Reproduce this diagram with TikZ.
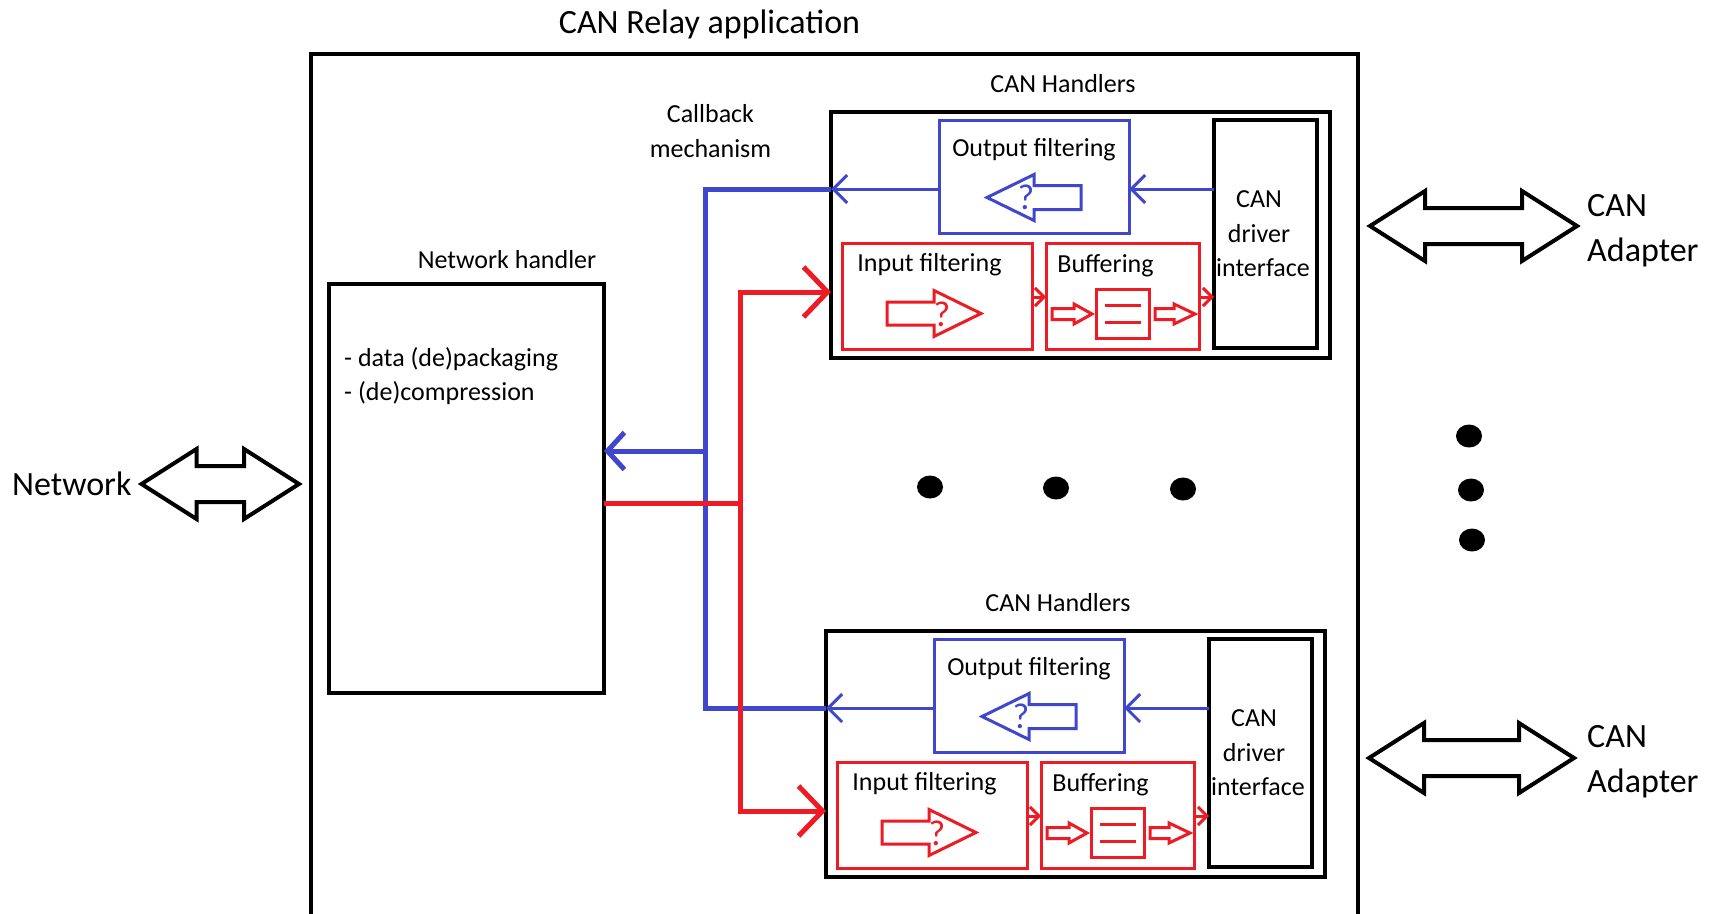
\documentclass[tikz,border=0pt]{standalone}
\usepackage{fontspec}
\setmainfont{Carlito}
\usetikzlibrary{arrows.meta}
\definecolor{pblue}{HTML}{3F48CC}
\definecolor{pred}{HTML}{ED1C24}

\tikzset{
  big/.style={font=\fontsize{34}{46}\selectfont, inner sep=0pt, anchor=base},
  small/.style={font=\fontsize{26}{35}\selectfont, inner sep=0pt, anchor=base},
  qmark/.style={font=\fontsize{36}{38}\selectfont, inner sep=0pt, anchor=base},
  sz/.style 2 args={minimum width=#1pt, minimum height=#2pt},
  anybox/.style={rectangle, inner sep=0pt, outer sep=0pt},
  frame/.style={anybox, draw=black, line width=3.5pt},
  hbox/.style={anybox, draw=black, line width=4.5pt},
  kbox/.style={anybox, draw=black, line width=4pt},
  nbox/.style={anybox, draw=black, line width=4pt},
  bbox/.style={anybox, draw=pblue, line width=3pt},
  rbox/.style={anybox, draw=pred, line width=3pt},
  bthin/.style={draw=pblue, line width=3pt},
  rthin/.style={draw=pred, line width=3pt},
  bthick/.style={draw=pblue, line width=5pt},
  rthick/.style={draw=pred, line width=5pt},
  dblshape/.style={draw=black, line width=4pt, line join=miter, fill=white},
  barbthin/.style={-{Straight Barb[length=14pt, width=28pt]}},
  barbtiny/.style={-{Straight Barb[length=9pt, width=18pt]}},
}

% double-headed outline arrow: left x, right x, centre y
\newcommand\dblarr[3]{%
  \draw[dblshape] (#1,#3) -- ({#1+55},{#3-35}) -- ({#1+55},{#3-18}) -- ({#2-55},{#3-18})
    -- ({#2-55},{#3-35}) -- (#2,#3) -- ({#2-55},{#3+35}) -- ({#2-55},{#3+18})
    -- ({#1+55},{#3+18}) -- ({#1+55},{#3+35}) -- cycle;}

% single outline block arrow: colour, tail x, head base x, tip x, y, head half, shaft half
\newcommand\blkarr[7]{%
  \draw[draw=#1, line width=3pt, line join=miter] (#2,{#5-#7}) -- (#3,{#5-#7}) -- (#3,{#5-#6})
    -- (#4,#5) -- (#3,{#5+#6}) -- (#3,{#5+#7}) -- (#2,{#5+#7}) -- cycle;}

% one CAN handler block: name suffix, dx, dy
\newcommand\canhandler[3]{%
\begin{scope}[shift={(#2,#3)}]
  \node[hbox, sz={499}{246}] (h#1) at (1080.5,235) {};
  \node[small] (hl#1) at (1063,92) {CAN Handlers};
  \node[bbox, sz={190}{113}] (out#1) at (1034,176.5) {};
  \node[rbox, sz={190}{106}] (in#1) at (937,296) {};
  \node[rbox, sz={153}{106}] (buf#1) at (1122.5,296) {};
  \node[kbox, sz={103}{228}] (drv#1) at (1265.5,234) {};
  \node[small] (ot#1) at (1034,156) {Output filtering};
  \node[small] (it#1) at (929.5,271) {Input filtering};
  \node[small] (bt#1) at (1105.5,272) {Buffering};
  \node[small] (da#1) at (1259,207) {CAN};
  \node[small] (db#1) at (1259,242) {driver};
  \node[small] (dc#1) at (1263,276) {interface};
  \blkarr{pblue}{1081}{1034}{987}{197.5}{23}{12}
  \node[qmark, text=pblue] (qa#1) at (1026,209.5) {?};
  \blkarr{pred}{887}{934}{981}{313.5}{23}{11.5}
  \node[qmark, text=pred] (qb#1) at (942,326) {?};
  \node[rbox, sz={53}{49}] (bi#1) at (1122.5,313.5) {};
  \draw[rthin] ([xshift=-18pt, yshift=8.5pt]bi#1.center) -- ([xshift=18pt, yshift=8.5pt]bi#1.center);
  \draw[rthin] ([xshift=-18pt, yshift=-8.5pt]bi#1.center) -- ([xshift=18pt, yshift=-8.5pt]bi#1.center);
  \blkarr{pred}{1052}{1074}{1092}{314}{10}{5.5}
  \blkarr{pred}{1155}{1174}{1195}{314}{10}{5.5}
  \coordinate (yb#1) at (0,189);
  \coordinate (yr#1) at (0,297);
  \coordinate (ra#1) at (0,292);
  \draw[bthin, barbthin] (drv#1.west |- yb#1) -- (out#1.east |- yb#1);
  \draw[bthin, barbthin] (out#1.west |- yb#1) -- (h#1.west |- yb#1);
  \draw[rthin, barbtiny] (in#1.east |- yr#1) -- (buf#1.west |- yr#1);
  \draw[rthin, barbtiny] (buf#1.east |- yr#1) -- (drv#1.west |- yr#1);
\end{scope}}

\begin{document}
\begin{tikzpicture}[x=1pt, y=-1pt]
  \useasboundingbox (0,0) rectangle (1718,913);
  \clip (0,0) rectangle (1718,913);
  \fill[white] (0,0) rectangle (1718,913);

  % application frame (runs off the bottom)
  \node[frame, sz={1047}{906}] (app) at (834.5,507) {};
  \node[big] (title) at (709.5,33) {CAN Relay application};

  % network handler
  \node[nbox, sz={275}{409}] (nh) at (466.5,488.5) {};
  \node[small] (nhl) at (507,268) {Network handler};
  \node[small, anchor=base west] (nh1) at (344,366) {- data (de)packaging};
  \node[small, anchor=base west] (nh2) at (344,400) {- (de)compression};

  \node[small] (cb1) at (710.5,122) {Callback};
  \node[small] (cb2) at (710.5,157) {mechanism};

  % network side
  \node[big, anchor=base west] (net) at (12,495) {Network};
  \dblarr{141.5}{299}{484}

  % CAN handlers
  \canhandler{1}{0}{0}
  \canhandler{2}{-5}{519}

  % callback (blue) bus
  \coordinate (bv) at (705,0);
  \coordinate (nb) at (705,451);
  \draw[bthick, line join=miter] (h1.west |- yb1) -| (bv |- yb2) -- (h2.west |- yb2);
  \draw[bthick, -{Straight Barb[length=17pt, width=37pt]}] (nb) -- (nh.east |- nb);

  % input (red) bus
  \coordinate (rv) at (740,0);
  \coordinate (nr) at (740,503);
  \draw[rthick] (nh.east |- nr) -- (nr);
  \draw[rthick, line join=miter, {Straight Barb[length=24pt, width=50pt]}-{Straight Barb[length=24pt, width=50pt]}]
    (h1.west |- ra1) -| (rv |- ra2) -- (h2.west |- ra2);

  % ellipsis dots
  \fill (930,487) ellipse [x radius=13pt, y radius=11.5pt];
  \fill (1056,488) ellipse [x radius=13pt, y radius=11.5pt];
  \fill (1183,489) ellipse [x radius=13pt, y radius=11.5pt];
  \fill (1469,436) ellipse [x radius=13pt, y radius=11.5pt];
  \fill (1471,490) ellipse [x radius=13pt, y radius=11.5pt];
  \fill (1472,540) ellipse [x radius=13pt, y radius=11.5pt];

  % CAN adapters
  \dblarr{1370}{1577}{226}
  \node[big, anchor=base west] (ca1) at (1587,216) {CAN};
  \node[big, anchor=base west] (cb1a) at (1587,261) {Adapter};
  \dblarr{1369}{1574}{758}
  \node[big, anchor=base west] (ca2) at (1587,747) {CAN};
  \node[big, anchor=base west] (cb2a) at (1587,792) {Adapter};
\end{tikzpicture}
\end{document}
